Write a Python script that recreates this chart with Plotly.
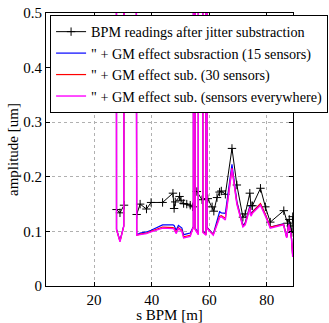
import plotly.graph_objects as go

H = 10.0  # off-scale corrected amplitudes (spikes)

# BPM readings after jitter subtraction
s_raw = [27.8, 29.0, 30.4, 32.5, 34.8, 36.0, 38.2, 39.8, 43.8, 47.4, 47.8, 48.2, 49.7, 50.2, 51.1,
         52.2, 53.4, 54.3, 55.0, 55.7, 57.5, 59.5, 61.0, 61.6, 62.7, 63.6, 64.2, 65.6, 67.9, 69.6,
         71.7, 72.5, 74.1, 74.5, 75.0, 77.8, 79.5, 81.2, 85.9, 87.2, 87.8, 88.3, 88.7, 89.0]
amp_raw = [0.140, 0.134, 0.148, None, 0.131, 0.150, 0.141, 0.153, 0.153, 0.170, 0.142, 0.154, 0.164,
           0.157, 0.151, 0.150, 0.148, 0.145, None, 0.173, 0.158, 0.160, 0.145, 0.137, 0.162, 0.172,
           0.174, 0.168, 0.252, 0.185, 0.126, 0.132, 0.170, 0.147, 0.147, 0.179, 0.145, 0.117,
           0.138, 0.115, 0.122, 0.110, 0.098, 0.127]

# GM-effect corrected readings
s_gm = [27.2, 27.8, 29.0, 30.3, 32.5, 34.8, 36.0, 38.2, 39.8, 43.8, 47.4, 47.8, 48.5, 49.3, 50.5,
        51.1, 53.4, 54.5, 54.8, 55.1, 56.2, 56.6, 57.8, 58.9, 59.0, 59.2, 61.4, 62.7, 63.6, 64.2,
        65.6, 67.9, 69.6, 71.7, 72.5, 74.1, 74.5, 75.0, 77.8, 79.5, 81.2, 85.8, 86.9, 87.6, 88.2,
        88.6, 89.0]
amp_gm15 = [H, 0.104, 0.083, 0.110, H, 0.094, 0.097, 0.099, 0.102, 0.112, 0.112, 0.111, 0.102,
            0.111, 0.106, 0.094, 0.097, 0.109, H, 0.106, 0.097, H, 0.101, 0.096, H, 0.108, 0.095,
            0.118, 0.136, 0.134, 0.133, 0.223, 0.155, 0.111, 0.116, 0.146, 0.131, 0.136, 0.150,
            0.131, 0.108, 0.114, 0.090, 0.114, 0.102, 0.087, 0.055]
amp_gm30 = [H, 0.103, 0.082, 0.109, H, 0.093, 0.095, 0.097, 0.100, 0.108, 0.107, 0.106, 0.098,
            0.107, 0.102, 0.090, 0.093, 0.108, H, 0.104, 0.095, H, 0.099, 0.094, H, 0.107, 0.094,
            0.114, 0.128, 0.129, 0.124, 0.216, 0.152, 0.109, 0.114, 0.144, 0.130, 0.135, 0.151,
            0.131, 0.108, 0.113, 0.089, 0.113, 0.101, 0.086, 0.054]
amp_gm_all = [H, 0.103, 0.081, 0.109, H, 0.093, 0.094, 0.096, 0.099, 0.106, 0.105, 0.104, 0.096,
              0.105, 0.100, 0.088, 0.091, 0.108, H, 0.104, 0.094, H, 0.098, 0.093, H, 0.106, 0.093,
              0.112, 0.125, 0.127, 0.121, 0.215, 0.150, 0.108, 0.112, 0.142, 0.128, 0.133, 0.148,
              0.128, 0.106, 0.112, 0.088, 0.112, 0.100, 0.085, 0.053]

names = ["BPM readings after jitter substraction",
         "\" + GM effect subsraction (15 sensors)",
         "\" + GM effect sub. (30 sensors)",
         "\" + GM effect sub. (sensors everywhere)"]

x_ticks = [20, 40, 60, 80]
y_ticks = [0, 0.1, 0.2, 0.3, 0.4, 0.5]

FONT = "Liberation Serif"

fig = go.Figure()
fig.add_trace(go.Scatter(x=s_raw, y=amp_raw, mode="lines+markers", name=names[0],
                         line=dict(color="black", width=1), connectgaps=False,
                         marker=dict(symbol="cross-thin-open", size=6,
                                     line=dict(color="black", width=1))))
fig.add_trace(go.Scatter(x=s_gm, y=amp_gm15, mode="lines", name=names[1],
                         line=dict(color="#0000ff", width=1.2)))
fig.add_trace(go.Scatter(x=s_gm, y=amp_gm30, mode="lines", name=names[2],
                         line=dict(color="#ff0000", width=1.2)))
fig.add_trace(go.Scatter(x=s_gm, y=amp_gm_all, mode="lines", name=names[3],
                         line=dict(color="#ff00ff", width=1.4)))

axis_common = dict(showline=True, linecolor="black", linewidth=1, mirror="ticks",
                   ticks="inside", ticklen=4, tickcolor="black",
                   showgrid=True, gridcolor="#b0b0b0", griddash="dot", gridwidth=1,
                   zeroline=False, tickfont=dict(family=FONT, size=15, color="black"))

fig.update_xaxes(range=[3.3, 89.1], tickvals=x_ticks, ticktext=[str(v) for v in x_ticks],
                 title=dict(text="s BPM [m]", font=dict(family=FONT, size=15, color="black"),
                            standoff=12),
                 **axis_common)
fig.update_yaxes(range=[0, 0.5], tickvals=y_ticks, ticktext=["0", "0.1", "0.2", "0.3", "0.4", "0.5"],
                 title=dict(text="amplitude [um]", font=dict(family=FONT, size=15, color="black"),
                            standoff=1),
                 **axis_common)

fig.update_layout(
    width=329, height=323,
    margin=dict(l=46, r=36, t=13, b=37, autoexpand=False),
    paper_bgcolor="white", plot_bgcolor="white",
    showlegend=True,
    legend=dict(x=1.142, y=0.993, xanchor="right", yanchor="top",
                bgcolor="white", bordercolor="black", borderwidth=1,
                font=dict(family=FONT, size=14.2, color="black"),
                itemwidth=30),
)

fig.write_html("out.html")
